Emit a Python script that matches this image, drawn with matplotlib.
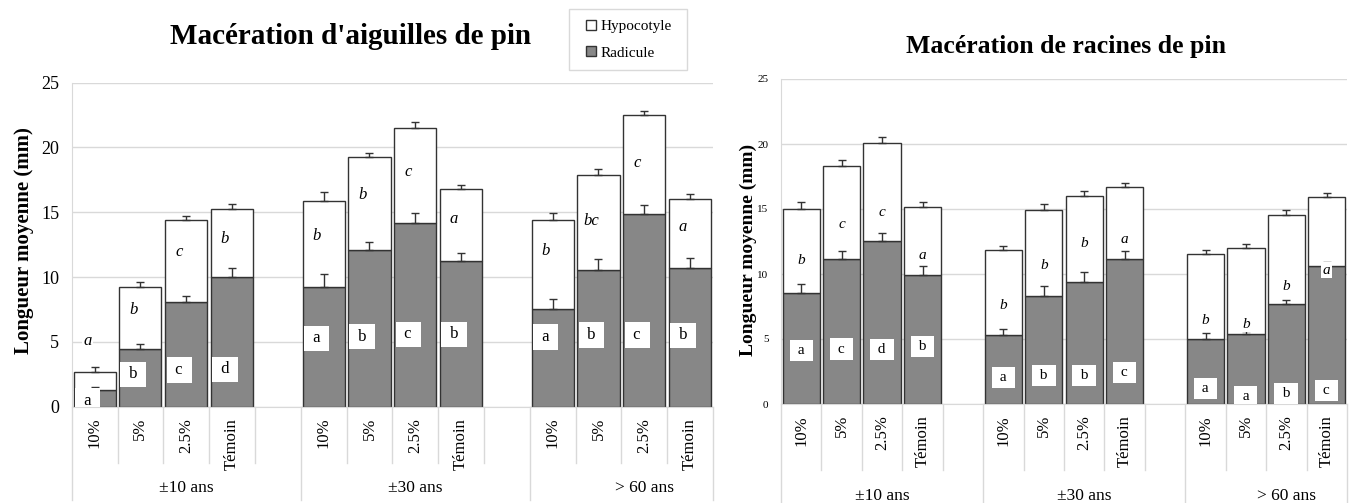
import numpy as np
import matplotlib.pyplot as plt
import matplotlib.transforms as mtransforms
from matplotlib.lines import Line2D

plt.rcParams['font.family'] = ['Liberation Serif', 'DejaVu Serif']

# Catégories
groupes = ['±10 ans', '±30 ans', '> 60 ans']
concentrations = ['10%', '5%', '2.5%', 'Témoin']

# Macération d'aiguilles de pin (longueurs moyennes en mm)
aig_radicule = [1.29, 4.47, 8.05, 9.97, 9.25, 12.11, 14.14, 11.21, 7.56, 10.57, 14.86, 10.72]
aig_hypocotyle = [1.41, 4.73, 6.35, 5.27, 6.66, 7.12, 7.40, 5.60, 6.81, 7.30, 7.66, 5.27]
aig_err_radicule = [0.26, 0.33, 0.49, 0.77, 0.98, 0.62, 0.77, 0.64, 0.75, 0.80, 0.67, 0.75]
aig_err_total = [0.39, 0.39, 0.33, 0.39, 0.67, 0.36, 0.39, 0.33, 0.59, 0.44, 0.33, 0.41]
aig_lettres_hyp = ['a', 'b', 'c', 'b', 'b', 'b', 'c', 'a', 'b', 'bc', 'c', 'a']
aig_lettres_rad = ['a', 'b', 'c', 'd', 'a', 'b', 'c', 'b', 'a', 'b', 'c', 'b']

# Macération de racines de pin
rac_radicule = [8.54, 11.13, 12.56, 9.92, 5.28, 8.31, 9.36, 11.18, 5.03, 5.38, 7.72, 10.64]
rac_hypocotyle = [6.46, 7.20, 7.54, 5.23, 6.57, 6.64, 6.61, 5.51, 6.48, 6.65, 6.79, 5.26]
rac_err_radicule = [0.72, 0.64, 0.56, 0.72, 0.49, 0.79, 0.79, 0.59, 0.44, 0.20, 0.28, 0.30]
rac_err_total = [0.51, 0.41, 0.44, 0.36, 0.31, 0.41, 0.41, 0.33, 0.36, 0.31, 0.44, 0.33]
rac_lettres_hyp = ['b', 'c', 'c', 'a', 'b', 'b', 'b', 'a', 'b', 'b', 'b', 'a']
rac_lettres_rad = ['a', 'c', 'd', 'b', 'a', 'b', 'b', 'c', 'a', 'a', 'b', 'c']

# Hauteur des lettres (placement des annotations)
aig_y_hyp = [5.06, 7.45, 11.95, 12.93, 13.16, 16.32, 18.12, 14.52, 12.0, 14.34, 18.84, 13.88]
aig_y_rad = [0.46, 2.5, 2.83, 2.88, 5.27, 5.4, 5.58, 5.58, 5.37, 5.53, 5.53, 5.5]
rac_y_hyp = [11.03, 13.82, 14.72, 11.46, 7.56, 10.69, 12.31, 12.62, 6.46, 6.15, 9.05, 10.28]
rac_y_rad = [4.1, 4.23, 4.2, 4.41, 2.05, 2.2, 2.2, 2.44, 1.2, 0.56, 0.77, 1.03]

GRIS = '#878787'
BORD = '#333333'
GRILLE = '#d9d9d9'

# 4 barres + un emplacement vide par groupe
x = np.array([g * 5 + i for g in range(3) for i in range(4)])


def panneau(ax, rad, hyp, err_rad, err_tot, let_hyp, y_hyp, let_rad, y_rad,
            taille_y, taille_lettre, decalage, bas_court, bas_long, y_groupe):
    rad = np.array(rad)
    total = rad + np.array(hyp)
    zero = np.zeros(len(x))
    ax.bar(x, rad, width=0.92, color=GRIS, edgecolor=BORD, lw=1.0, zorder=2)
    ax.bar(x, hyp, bottom=rad, width=0.92, color='white', edgecolor=BORD, lw=1.0, zorder=2)
    ax.errorbar(x, rad, yerr=[zero, err_rad], fmt='none', ecolor=BORD,
                elinewidth=1.0, capsize=3, capthick=1.0, zorder=3)
    ax.errorbar(x, total, yerr=[zero, err_tot], fmt='none', ecolor=BORD,
                elinewidth=1.0, capsize=3, capthick=1.0, zorder=3)

    ax.set_xlim(-0.5, 13.5)
    ax.set_ylim(0, 25)
    ax.set_yticks(range(0, 26, 5))
    ax.yaxis.grid(True, color=GRILLE, lw=1.0)
    ax.set_axisbelow(True)
    for s in ['top', 'right']:
        ax.spines[s].set_visible(False)
    for s in ['left', 'bottom']:
        ax.spines[s].set_color(GRILLE)
    ax.tick_params(length=0)
    ax.tick_params(axis='y', labelsize=taille_y, pad=9)
    ax.set_xticks(x)
    ax.set_xticklabels(concentrations * 3, rotation=90, fontsize=12)
    ax.tick_params(axis='x', pad=8)

    # lettres des tests statistiques
    tr = mtransforms.offset_copy(ax.transData, fig=ax.figure, x=decalage, units='dots')
    for xi, l, yl in zip(x, let_hyp, y_hyp):
        ax.text(xi, yl, l, transform=tr, style='italic', ha='center', va='center',
                fontsize=taille_lettre, zorder=4,
                bbox=dict(boxstyle='square,pad=0.1', fc='white', ec='none'))
    for xi, l, yl in zip(x, let_rad, y_rad):
        ax.text(xi, yl, ' ' + l + ' ', transform=tr, ha='center', va='center',
                fontsize=taille_lettre, zorder=4, clip_on=True,
                bbox=dict(boxstyle='square,pad=0.28', fc='white', ec='none'))

    # axe des catégories à deux niveaux
    trb = mtransforms.blended_transform_factory(ax.transData, ax.transAxes)
    for b in np.arange(-0.5, 14, 1):
        long = b in (-0.5, 4.5, 9.5, 13.5)
        ax.plot([b, b], [0, -(bas_long if long else bas_court)], transform=trb,
                color=GRILLE, lw=1.0, clip_on=False)
    for g, nom in enumerate(groupes):
        ax.text(g * 5 + 2, y_groupe, nom, transform=trb, ha='center', va='center',
                fontsize=12.5, clip_on=False)


fig = plt.figure(figsize=(13.55, 5.03), dpi=100)
ax1 = fig.add_axes([71.7 / 1355, 96.3 / 503, 641.3 / 1355, 324 / 503])
ax2 = fig.add_axes([781 / 1355, 99 / 503, 566 / 1355, 325 / 503])

panneau(ax1, aig_radicule, aig_hypocotyle, aig_err_radicule, aig_err_total,
        aig_lettres_hyp, aig_y_hyp, aig_lettres_rad, aig_y_rad,
        13, 12, -7, 0.173, 0.288, -0.251)
panneau(ax2, rac_radicule, rac_hypocotyle, rac_err_radicule, rac_err_total,
        rac_lettres_hyp, rac_y_hyp, rac_lettres_rad, rac_y_rad,
        8, 11, 0, 0.203, 0.31, -0.282)

fig.text(351 / 1355, 1 - 37 / 503, "Macération d'aiguilles de pin", fontsize=21,
         fontweight='bold', ha='center', va='center')
fig.text(1066 / 1355, 1 - 46 / 503, 'Macération de racines de pin', fontsize=18.5,
         fontweight='bold', ha='center', va='center')
fig.text(24.5 / 1355, 1 - 241 / 503, 'Longueur moyenne (mm)', fontsize=15,
         fontweight='bold', rotation=90, ha='center', va='center')
fig.text(748 / 1355, 1 - 250 / 503, 'Longueur moyenne (mm)', fontsize=14,
         fontweight='bold', rotation=90, ha='center', va='center')

poignees = [Line2D([], [], ls='none', marker='s', markersize=7.5, markerfacecolor='white',
                   markeredgecolor=BORD, label='Hypocotyle'),
            Line2D([], [], ls='none', marker='s', markersize=7.5, markerfacecolor=GRIS,
                   markeredgecolor=BORD, label='Radicule')]
fig.legend(handles=poignees, loc='upper left', mode='expand',
           bbox_to_anchor=(569 / 1355, 1 - 65 / 503, 118 / 1355, 56 / 503),
           fontsize=11, frameon=True, fancybox=False, edgecolor='#d0d0d0',
           handlelength=1.5, handletextpad=-0.1,
           labelspacing=0.85, borderpad=0.68, borderaxespad=0)

fig.savefig('out.png', dpi=100)
